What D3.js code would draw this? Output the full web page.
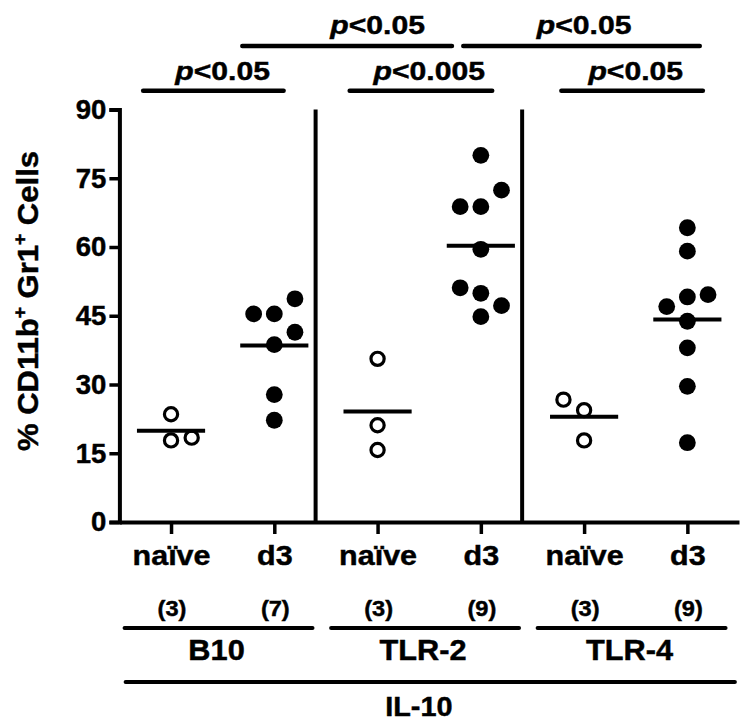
<!DOCTYPE html>
<html><head><meta charset="utf-8">
<script src="https://cdn.jsdelivr.net/npm/d3@7/dist/d3.min.js"></script>
<style>
body{margin:0;background:#fff}
text{font-family:"Liberation Sans",Arial,sans-serif;font-weight:bold;fill:#000;stroke:#000;stroke-width:0.45px}
</style>
</head><body>
<svg id="chart" width="750" height="726"></svg>
<script>
// ---------------- data ----------------
const categories = ["naïve", "d3", "naïve", "d3", "naïve", "d3"];
const groupCounts = ["(3)", "(7)", "(3)", "(9)", "(3)", "(9)"];
const strains = ["B10", "TLR-2", "TLR-4"];
const strainFirst = [0, 2, 4];
const strainLast = [1, 3, 5];
const outerLabel = "IL-10";
const yTicks = [0, 15, 30, 45, 60, 75, 90];

const b10Naive  = [23.5, 17.8, 18.4];
const b10D3     = [48.7, 45.4, 45.4, 41.4, 38.7, 27.8, 22.2];
const tlr2Naive = [35.6, 21.1, 15.7];
const tlr2D3    = [80.0, 72.4, 68.8, 68.8, 59.5, 51.1, 49.9, 47.2, 44.8];
const tlr4Naive = [26.7, 24.4, 17.8];
const tlr4D3    = [64.2, 59.1, 49.6, 49.1, 47.0, 43.8, 38.0, 29.6, 17.3];
const seriesValues = [b10Naive, b10D3, tlr2Naive, tlr2D3, tlr4Naive, tlr4D3];
// column slot (-1 left, 0 centre, +1 right) of each point
const seriesSlots = [
  [0, 0, 1],
  [1, -1, 0, 1, 0, 0, 0],
  [0, 0, 0],
  [0, 1, -1, 0, 0, -1, 0, 1, 0],
  [-1, 0, 0],
  [0, 0, 1, 0, -1, 0, 0, 0, 0]
];
const openSymbol = [true, false, true, false, true, false];

const sigFrom = [0, 2, 4, 1, 3];
const sigTo   = [1, 3, 5, 3, 5];
const sigText = ["0.05", "0.005", "0.05", "0.05", "0.05"];
const sigTier = [0, 0, 0, 1, 1];

// ---------------- layout ----------------
const svg = d3.select("#chart");
const x = d3.scaleLinear().domain([-0.5, 5.5]).range([119.4, 739]);
const y = d3.scaleLinear().domain([0, 90]).range([522, 109.5]);
const slotStep = 0.2;        // category units between jitter columns
const meanHalf = 0.33;       // half width of mean line, category units
const separators = [1.4, 3.4];
const sigSpan = [[-0.27, 1.09], [1.73, 3.11], [3.78, 5.15], [0.69, 2.72], [2.83, 5.12]];
const tierBarY = [90.7, 46];
const tierTextY = [80, 33.5];

function label(px, py, size, sx) {
  return svg.append("text").attr("transform", `translate(${px},${py}) scale(${sx},1)`)
    .attr("text-anchor", "middle").attr("font-size", size);
}

// y axis
const yAxis = svg.append("g").attr("transform", `translate(${x(-0.5)},0)`)
  .call(d3.axisLeft(y).tickValues(yTicks).tickSize(10).tickSizeOuter(10).tickPadding(3));
yAxis.select(".domain").attr("stroke", "#000").attr("stroke-width", 4).attr("stroke-linejoin", "miter");
yAxis.selectAll(".tick line").attr("stroke", "#000").attr("stroke-width", 3.5);
yAxis.selectAll(".tick text").attr("font-size", 27.5).attr("font-family", null).attr("fill", "#000");

// x axis
const xAxis = svg.append("g").attr("transform", `translate(0,${y(0)})`)
  .call(d3.axisBottom(x).tickValues(d3.range(categories.length)).tickFormat(i => categories[i])
    .tickSize(12).tickSizeOuter(0).tickPadding(11));
xAxis.select(".domain").attr("stroke", "#000").attr("stroke-width", 4);
xAxis.selectAll(".tick line").attr("stroke", "#000").attr("stroke-width", 3.5);
xAxis.selectAll(".tick text").attr("font-size", 28).attr("font-family", null).attr("fill", "#000")
  .attr("transform", "scale(1.09,1)");

// separators
svg.selectAll("line.sep").data(separators).join("line").attr("class", "sep")
  .attr("x1", d => x(d)).attr("x2", d => x(d)).attr("y1", y(0)).attr("y2", y(90))
  .attr("stroke", "#000").attr("stroke-width", 4);

// y title
const yt = svg.append("text").attr("transform", `translate(38,301) rotate(-90) scale(1.07,1)`)
  .attr("text-anchor", "middle").attr("font-size", 29);
yt.append("tspan").text("% CD11b");
yt.append("tspan").text("+").attr("font-size", 18).attr("dy", -12);
yt.append("tspan").text(" Gr1").attr("dy", 12);
yt.append("tspan").text("+").attr("font-size", 18).attr("dy", -12);
yt.append("tspan").text(" Cells").attr("dy", 12);

// points
const pts = [];
seriesValues.forEach((vals, g) => vals.forEach((v, k) => pts.push({g, v, s: seriesSlots[g][k]})));
svg.selectAll("circle.pt").data(pts).join("circle").attr("class", "pt")
  .attr("cx", d => x(d.g + d.s * slotStep)).attr("cy", d => y(d.v))
  .attr("r", d => openSymbol[d.g] ? 6.6 : 8.4)
  .attr("fill", d => openSymbol[d.g] ? "#fff" : "#000")
  .attr("stroke", d => openSymbol[d.g] ? "#000" : "none")
  .attr("stroke-width", 3.2);

// mean lines
svg.selectAll("line.mean").data(seriesValues).join("line").attr("class", "mean")
  .attr("x1", (d, i) => x(i - meanHalf)).attr("x2", (d, i) => x(i + meanHalf))
  .attr("y1", d => y(d3.mean(d))).attr("y2", d => y(d3.mean(d)))
  .attr("stroke", "#000").attr("stroke-width", 4);

// counts
groupCounts.forEach((c, i) => label(x(i) + 1, 616, 22.5, 1.05).text(c));

// strain brackets
strains.forEach((s, i) => {
  const x0 = x(strainFirst[i] - 0.45), x1 = x(strainLast[i] + 0.37);
  svg.append("line").attr("x1", x0).attr("x2", x1).attr("y1", 628).attr("y2", 628)
    .attr("stroke", "#000").attr("stroke-width", 4).attr("stroke-linecap", "round");
  label((x0 + x1) / 2 - 2, 660, 29, 1.06).text(s);
});
svg.append("line").attr("x1", x(-0.44)).attr("x2", x(5.46)).attr("y1", 682).attr("y2", 682)
  .attr("stroke", "#000").attr("stroke-width", 4).attr("stroke-linecap", "round");
label(x(2.4), 716, 28, 1.03).text(outerLabel);

// significance
sigFrom.forEach((a, i) => {
  const b = sigTo[i], t = sigTier[i];
  svg.append("line").attr("x1", x(sigSpan[i][0])).attr("x2", x(sigSpan[i][1]))
    .attr("y1", tierBarY[t]).attr("y2", tierBarY[t])
    .attr("stroke", "#000").attr("stroke-width", 4.5).attr("stroke-linecap", "round");
  const tx = label(x((a + b) / 2), tierTextY[t], 26, 1.16);
  tx.append("tspan").attr("font-style", "italic").text("p");
  tx.append("tspan").text("<" + sigText[i]);
});
</script>
</body></html>
